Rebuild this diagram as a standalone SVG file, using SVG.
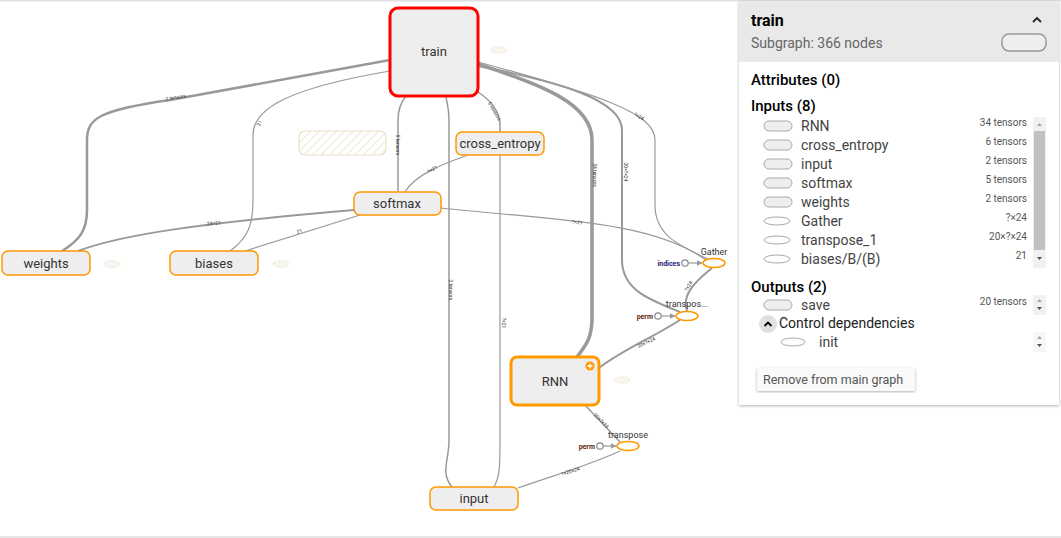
<svg xmlns="http://www.w3.org/2000/svg" width="1061" height="538" viewBox="0 0 1061 538">
<style>
.node rect{fill:#eee;stroke:#f90;stroke-width:1.5}
.lbl{font-family:Roboto,"Noto Sans",sans-serif;font-size:13px;fill:#333;text-anchor:middle}
.e{fill:none;stroke:#999}
.el{font-family:Roboto,sans-serif;font-size:5px;fill:#333;text-anchor:middle}
.op ellipse{fill:#fff;stroke:#f90;stroke-width:1.5}
.opl{font-family:Roboto,sans-serif;font-size:9px;fill:#333;text-anchor:middle}
.cst{font-family:Roboto,sans-serif;font-size:7px;font-weight:bold;text-anchor:end}
.pt{font-family:Roboto,"Noto Sans",sans-serif}
.h{font-size:15px;font-weight:500;fill:#000}
.it{font-size:14px;fill:#444}
.v{font-size:10px;fill:#555;text-anchor:end}
.ri{fill:#eee;stroke:#aaa;stroke-width:1}
.ei{fill:#fff;stroke:#aaa;stroke-width:1}
.sm{fill:url(#hatch2);stroke:#efe6d2;stroke-width:0.6}
</style>
<defs>
<pattern id="hatch" width="6" height="6" patternUnits="userSpaceOnUse" patternTransform="rotate(45)">
<rect width="6" height="6" fill="#fff"/>
<line x1="0" y1="0" x2="0" y2="6" stroke="#eadfc4" stroke-width="1.5"/>
</pattern>
<pattern id="hatch2" width="2.5" height="2.5" patternUnits="userSpaceOnUse" patternTransform="rotate(45)">
<rect width="2.5" height="2.5" fill="#fff"/>
<line x1="0" y1="0" x2="0" y2="2.5" stroke="#e2d3ad" stroke-width="1"/>
</pattern>
<marker id="arr" viewBox="0 0 10 10" refX="9" refY="5" markerWidth="5" markerHeight="5" orient="auto">
<path d="M0 0 L10 5 L0 10 z" fill="#999"/>
</marker>
<filter id="sh" x="-5%" y="-5%" width="110%" height="110%">
<feDropShadow dx="0" dy="1" stdDeviation="1.5" flood-color="#000" flood-opacity="0.3"/>
</filter>
</defs>
<rect x="0" y="0" width="1061" height="538" fill="#fff"/>
<line x1="0" y1="0.8" x2="1061" y2="0.8" stroke="#e0e0e0" stroke-width="1.6"/>
<line x1="0" y1="537" x2="1061" y2="537" stroke="#ddd" stroke-width="1.5"/>

<g id="connectors">
<path class="e" stroke-width="2.5" d="M62 251 C80 240 87 230 87 210 L87 140 C87 118 100 110 170 100 L390 60"/>
<text class="el" transform="translate(176 99) rotate(-10)">2 tensors</text>
<path class="e" stroke-width="1.2" d="M230 251 C248 238 253 225 253 200 L253 135 C253 108 290 88 390 71"/>
<text class="el" transform="translate(261 124) rotate(-60)">21</text>
<path class="e" stroke-width="2" d="M78 251 C120 235 200 223 354 210"/>
<text class="el" transform="translate(214 225) rotate(-5)">24×21</text>
<path class="e" stroke-width="1.2" d="M245 251 L360 215"/>
<text class="el" transform="translate(300 233) rotate(-17)">21</text>
<path class="e" stroke-width="1.5" d="M398 192 L398 120 C398 108 402 101 406 96"/>
<text class="el" transform="translate(396 145) rotate(90)">5 tensors</text>
<path class="e" stroke-width="1.2" d="M405 192 C415 175 440 165 468 155"/>
<text class="el" transform="translate(433 171) rotate(-30)">?×21</text>
<path class="e" stroke-width="1.5" d="M500 132 L500 125 C500 110 490 100 478 92"/>
<text class="el" transform="translate(493 112) rotate(60)">6 tensors</text>
<path class="e" stroke-width="1.5" d="M452 487 C440 472 449 462 449 440 L449 120 C449 106 446 100 446 96"/>
<text class="el" transform="translate(449 290) rotate(90)">2 tensors</text>
<path class="e" stroke-width="1.2" d="M494 487 C500 476 500 466 500 440 L500 155"/>
<text class="el" transform="translate(502 323) rotate(90)">?×21</text>
<path class="e" stroke-width="3.5" d="M577 357 C586 345 592 338 592 318 L592 140 C592 100 530 82 478 64"/>
<text class="el" transform="translate(593 175) rotate(90)">34 tensors</text>
<path class="e" stroke-width="2" d="M680 312 C650 300 622 290 622 260 L622 130 C622 100 560 82 478 66"/>
<text class="el" transform="translate(624 172) rotate(90)">20×?×24</text>
<path class="e" stroke-width="1.2" d="M710 260 C680 246 655 236 655 205 L655 140 C655 113 600 95 478 62"/>
<text class="el" transform="translate(638 118) rotate(30)">?×24</text>
<path class="e" stroke-width="1.2" d="M441 208 C550 220 650 220 706 260"/>
<text class="el" transform="translate(577 224) rotate(6)">?×21</text>
<path class="e" stroke-width="2" d="M712 268 C692 284 682 296 687 311"/>
<text class="el" transform="translate(690 287) rotate(-60)">?×24</text>
<path class="e" stroke-width="2" d="M680 320 C652 338 622 350 599 368"/>
<text class="el" transform="translate(647 344) rotate(-25)">20×?×24</text>
<path class="e" stroke-width="1.5" d="M585 405 L620 442"/>
<text class="el" transform="translate(600 422) rotate(45)">20×?×24</text>
<path class="e" stroke-width="1.2" d="M620 451 C590 465 552 476 518 488"/>
<text class="el" transform="translate(571 473) rotate(-17)">?×20×24</text>
<line x1="688" y1="263" x2="702" y2="263" stroke="#999" stroke-width="1.2" marker-end="url(#arr)"/>
<line x1="661" y1="316" x2="675" y2="316" stroke="#999" stroke-width="1.2" marker-end="url(#arr)"/>
<line x1="603" y1="446" x2="616" y2="446" stroke="#999" stroke-width="1.2" marker-end="url(#arr)"/>
</g>

<g id="hidden">
<rect x="299" y="131" width="87" height="24" rx="6" fill="url(#hatch)" stroke="#eadfc4" stroke-width="1.2"/>
<ellipse class="sm" cx="499" cy="50" rx="8" ry="3.2"/>
<ellipse class="sm" cx="112" cy="264" rx="8" ry="3.2"/>
<ellipse class="sm" cx="281" cy="264" rx="8" ry="3.2"/>
<ellipse class="sm" cx="622" cy="380" rx="8" ry="3.2"/>
</g>

<g id="train" class="node">
<rect x="390" y="8" width="88" height="88" rx="8" style="stroke:#f00;stroke-width:3"/>
<text class="lbl" x="434" y="56">train</text>
</g>
<g id="cross_entropy" class="node">
<rect x="456" y="132" width="88" height="23" rx="6"/>
<text class="lbl" x="500" y="148">cross_entropy</text>
</g>
<g id="softmax" class="node">
<rect x="354" y="192" width="87" height="23" rx="6"/>
<text class="lbl" x="397" y="208">softmax</text>
</g>
<g id="weights" class="node">
<rect x="2" y="251" width="88" height="24" rx="6"/>
<text class="lbl" x="46" y="268">weights</text>
</g>
<g id="biases" class="node">
<rect x="170" y="251" width="88" height="24" rx="6"/>
<text class="lbl" x="214" y="268">biases</text>
</g>
<g id="RNN" class="node">
<rect x="511" y="357" width="88" height="48" rx="6" style="stroke-width:3"/>
<text class="lbl" x="555" y="386">RNN</text>
<circle cx="590" cy="366" r="4.5" fill="#f90"/>
<path d="M587.5 366 H592.5 M590 363.5 V368.5" stroke="#fff" stroke-width="1.3"/>
</g>
<g id="input" class="node">
<rect x="430" y="487" width="88" height="23" rx="6"/>
<text class="lbl" x="474" y="503">input</text>
</g>
<g id="Gather" class="op">
<ellipse cx="714" cy="263" rx="11" ry="4.5"/>
<text class="opl" x="714" y="255">Gather</text>
<circle cx="685" cy="263" r="3.2" fill="#fff" stroke="#888" stroke-width="1.2"/>
<text class="cst" x="680" y="265.5" fill="#1a237e">indices</text>
</g>
<g id="transpose_1" class="op">
<ellipse cx="687" cy="316" rx="11" ry="4.5"/>
<text class="opl" x="687" y="307">transpos...</text>
<circle cx="658" cy="316" r="3.2" fill="#fff" stroke="#888" stroke-width="1.2"/>
<text class="cst" x="653" y="318.5" fill="#5d1a0a">perm</text>
</g>
<g id="transpose" class="op">
<ellipse cx="628" cy="446" rx="11" ry="4.5"/>
<text class="opl" x="628" y="438">transpose</text>
<circle cx="600" cy="446" r="3.2" fill="#fff" stroke="#888" stroke-width="1.2"/>
<text class="cst" x="595" y="448.5" fill="#5d1a0a">perm</text>
</g>

<g id="panel" class="pt">
<rect x="739" y="1" width="320" height="404" fill="#fff" filter="url(#sh)"/>
<rect x="739" y="1" width="320" height="61" fill="#e9e9e9"/>
<text x="751" y="26" style="font-size:16px;font-weight:bold;fill:#000">train</text>
<path d="M1033 22 L1037 18 L1041 22" fill="none" stroke="#222" stroke-width="1.8"/>
<text x="751" y="48" style="font-size:14px;fill:#666">Subgraph: 366 nodes</text>
<rect x="1002" y="34" width="44" height="17" rx="7" fill="#eee" stroke="#999" stroke-width="1.5"/>
<text class="h" x="751" y="85">Attributes (0)</text>
<text class="h" x="751" y="111">Inputs (8)</text>
<rect class="ri" x="764" y="121" width="28" height="10" rx="5"/>
<text class="it" x="801" y="131">RNN</text>
<text class="v" x="1027" y="126">34 tensors</text>
<rect class="ri" x="764" y="140" width="28" height="10" rx="5"/>
<text class="it" x="801" y="150">cross_entropy</text>
<text class="v" x="1027" y="145">6 tensors</text>
<rect class="ri" x="764" y="159" width="28" height="10" rx="5"/>
<text class="it" x="801" y="169">input</text>
<text class="v" x="1027" y="164">2 tensors</text>
<rect class="ri" x="764" y="178" width="28" height="10" rx="5"/>
<text class="it" x="801" y="188">softmax</text>
<text class="v" x="1027" y="183">5 tensors</text>
<rect class="ri" x="764" y="197" width="28" height="10" rx="5"/>
<text class="it" x="801" y="207">weights</text>
<text class="v" x="1027" y="202">2 tensors</text>
<ellipse class="ei" cx="777" cy="221" rx="13" ry="4"/>
<text class="it" x="801" y="226">Gather</text>
<text class="v" x="1027" y="221">?×24</text>
<ellipse class="ei" cx="777" cy="240" rx="13" ry="4"/>
<text class="it" x="801" y="245">transpose_1</text>
<text class="v" x="1027" y="240">20×?×24</text>
<ellipse class="ei" cx="777" cy="259" rx="13" ry="4"/>
<text class="it" x="801" y="264">biases/B/(B)</text>
<text class="v" x="1027" y="259">21</text>
<rect x="1033" y="117" width="13" height="151" fill="#f1f1f1"/>
<rect x="1034" y="131" width="11" height="119" fill="#c1c1c1"/>
<path d="M1037 126 L1039.5 123 L1042 126 z" fill="#a3a3a3"/>
<path d="M1037 257 L1039.5 260 L1042 257 z" fill="#505050"/>
<text class="h" x="751" y="292">Outputs (2)</text>
<rect class="ri" x="764" y="300" width="28" height="10" rx="5"/>
<text class="it" x="801" y="310">save</text>
<text class="v" x="1027" y="305">20 tensors</text>
<rect x="1033" y="295" width="13" height="20" fill="#f1f1f1"/>
<path d="M1037 302 L1039.5 299 L1042 302 z" fill="#a3a3a3"/>
<path d="M1037 307 L1039.5 310 L1042 307 z" fill="#505050"/>
<circle cx="768" cy="324" r="9" fill="#e0e0e0"/>
<path d="M764.5 326 L768 322.5 L771.5 326" fill="none" stroke="#000" stroke-width="1.8"/>
<text x="779" y="328" style="font-size:14px;fill:#222">Control dependencies</text>
<ellipse class="ei" cx="793" cy="342" rx="12" ry="4"/>
<text class="it" x="819" y="347">init</text>
<rect x="1033" y="332" width="13" height="20" fill="#f7f7f7"/>
<path d="M1037 339 L1039.5 336 L1042 339 z" fill="#a3a3a3"/>
<path d="M1037 344 L1039.5 347 L1042 344 z" fill="#505050"/>
<rect x="757" y="368" width="158" height="23" rx="2" fill="#fafafa" filter="url(#sh)"/>
<text x="763" y="384" style="font-size:12.5px;fill:#555">Remove from main graph</text>
</g>
</svg>
